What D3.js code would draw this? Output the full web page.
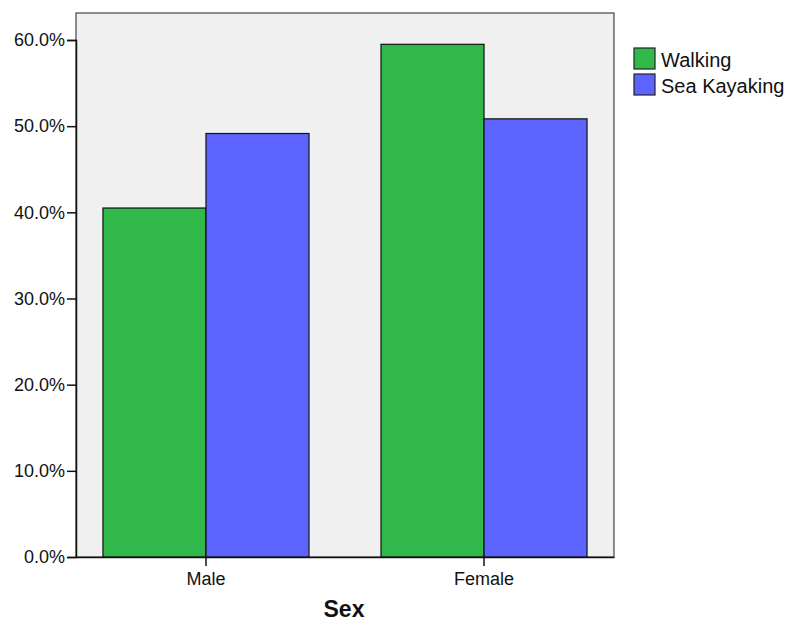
<!DOCTYPE html>
<html><head><meta charset="utf-8">
<script src="https://cdn.jsdelivr.net/npm/d3@7"></script>
<style>body{margin:0;background:#fff}svg{display:block}text{font-family:"Liberation Sans",Arial,sans-serif;fill:#111}</style>
</head><body><svg id="c" width="790" height="624"></svg>
<script>
const categories = ["Male", "Female"];
const seriesNames = ["Walking", "Sea Kayaking"];
const walking = [40.5, 59.5];
const seaKayaking = [49.15, 50.85];
const yTicks = [0, 10, 20, 30, 40, 50, 60];
const colors = ["#31b84b", "#5c63ff"];

const svg = d3.select("#c");
const L = 76, R = 614, T = 13, B = 557;

const y = d3.scaleLinear().domain([0, 60]).range([B, 40]);
const x = d3.scaleBand().domain(categories).range([L, R]).paddingInner(0.259).paddingOuter(0.097);
const xs = d3.scaleBand().domain(seriesNames).range([0, x.bandwidth()]);

svg.append("rect").attr("x", L).attr("y", T).attr("width", R - L).attr("height", B - T)
  .attr("fill", "#f0f0f0").attr("stroke", "#444").attr("stroke-width", 1.2);

const data = categories.map((c, i) => ({c, vals: [walking[i], seaKayaking[i]]}));
const g = svg.append("g");
data.forEach(d => {
  d.vals.forEach((v, j) => {
    g.append("rect")
      .attr("x", x(d.c) + xs(seriesNames[j]))
      .attr("y", y(v))
      .attr("width", xs.bandwidth())
      .attr("height", y(0) - y(v))
      .attr("fill", colors[j]).attr("stroke", "#111").attr("stroke-width", 1.2);
  });
});

const yAxis = svg.append("g").attr("transform", `translate(${L},0)`)
  .call(d3.axisLeft(y).tickValues(yTicks).tickSize(9).tickPadding(2).tickFormat(d => d.toFixed(1) + "%"));
yAxis.select(".domain").attr("stroke", "#111").attr("stroke-width", 1.5);
yAxis.selectAll(".tick line").attr("stroke", "#111").attr("stroke-width", 1.5);
yAxis.selectAll("text").attr("font-size", 18).attr("fill", "#111").style("font-family", '"Liberation Sans",Arial,sans-serif');

const xAxis = svg.append("g").attr("transform", `translate(0,${B})`)
  .call(d3.axisBottom(x).tickSize(9).tickPadding(6).tickSizeOuter(0));
xAxis.select(".domain").attr("stroke", "#111").attr("stroke-width", 1.5);
xAxis.selectAll(".tick line").attr("stroke", "#111").attr("stroke-width", 1.5);
xAxis.selectAll("text").attr("font-size", 18).attr("fill", "#111").style("font-family", '"Liberation Sans",Arial,sans-serif');

svg.append("text").attr("x", (L + R) / 2 - 1).attr("y", 617).attr("text-anchor", "middle")
  .attr("font-size", 23).attr("font-weight", "bold").text("Sex");

const leg = svg.append("g");
seriesNames.forEach((s, i) => {
  leg.append("rect").attr("x", 634).attr("y", 48 + i * 26).attr("width", 21).attr("height", 21)
    .attr("fill", colors[i]).attr("stroke", "#222").attr("stroke-width", 1.2);
  leg.append("text").attr("x", 661).attr("y", 66.5 + i * 26).attr("font-size", 20).text(s);
});
</script></body></html>
